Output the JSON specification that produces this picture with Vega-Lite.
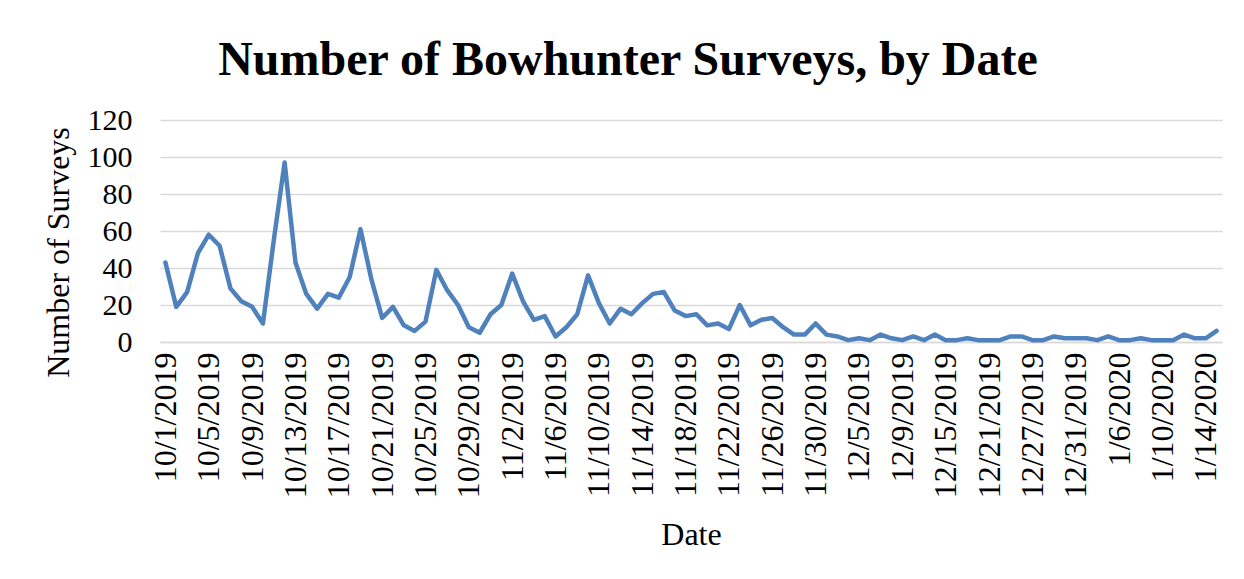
{
  "$schema": "https://vega.github.io/schema/vega-lite/v6.json",
  "autosize": {"type": "none"},
  "padding": {"left": 160, "top": 120, "right": 22, "bottom": 237},
  "width": 1062,
  "height": 222,
  "background": "white",
  "title": {
    "text": "Number of Bowhunter Surveys, by Date",
    "font": "Liberation Serif",
    "fontSize": 48,
    "fontWeight": "bold",
    "color": "black",
    "frame": "group",
    "anchor": "middle",
    "baseline": "alphabetic",
    "offset": -18,
    "dx": -63
  },
  "config": {"view": {"stroke": null}},
  "data": {
    "values": [
      {"date": "10/1/2019", "surveys": 43},
      {"date": "10/2/2019", "surveys": 19},
      {"date": "10/3/2019", "surveys": 27},
      {"date": "10/4/2019", "surveys": 48},
      {"date": "10/5/2019", "surveys": 58},
      {"date": "10/6/2019", "surveys": 52},
      {"date": "10/7/2019", "surveys": 29},
      {"date": "10/8/2019", "surveys": 22},
      {"date": "10/9/2019", "surveys": 19},
      {"date": "10/10/2019", "surveys": 10},
      {"date": "10/11/2019", "surveys": 55},
      {"date": "10/12/2019", "surveys": 97},
      {"date": "10/13/2019", "surveys": 43},
      {"date": "10/14/2019", "surveys": 26},
      {"date": "10/15/2019", "surveys": 18},
      {"date": "10/16/2019", "surveys": 26},
      {"date": "10/17/2019", "surveys": 24},
      {"date": "10/18/2019", "surveys": 35},
      {"date": "10/19/2019", "surveys": 61},
      {"date": "10/20/2019", "surveys": 34},
      {"date": "10/21/2019", "surveys": 13},
      {"date": "10/22/2019", "surveys": 19},
      {"date": "10/23/2019", "surveys": 9},
      {"date": "10/24/2019", "surveys": 6},
      {"date": "10/25/2019", "surveys": 11},
      {"date": "10/26/2019", "surveys": 39},
      {"date": "10/27/2019", "surveys": 28},
      {"date": "10/28/2019", "surveys": 20},
      {"date": "10/29/2019", "surveys": 8},
      {"date": "10/30/2019", "surveys": 5},
      {"date": "10/31/2019", "surveys": 15},
      {"date": "11/1/2019", "surveys": 20},
      {"date": "11/2/2019", "surveys": 37},
      {"date": "11/3/2019", "surveys": 22},
      {"date": "11/4/2019", "surveys": 12},
      {"date": "11/5/2019", "surveys": 14},
      {"date": "11/6/2019", "surveys": 3},
      {"date": "11/7/2019", "surveys": 8},
      {"date": "11/8/2019", "surveys": 15},
      {"date": "11/9/2019", "surveys": 36},
      {"date": "11/10/2019", "surveys": 21},
      {"date": "11/11/2019", "surveys": 10},
      {"date": "11/12/2019", "surveys": 18},
      {"date": "11/13/2019", "surveys": 15},
      {"date": "11/14/2019", "surveys": 21},
      {"date": "11/15/2019", "surveys": 26},
      {"date": "11/16/2019", "surveys": 27},
      {"date": "11/17/2019", "surveys": 17},
      {"date": "11/18/2019", "surveys": 14},
      {"date": "11/19/2019", "surveys": 15},
      {"date": "11/20/2019", "surveys": 9},
      {"date": "11/21/2019", "surveys": 10},
      {"date": "11/22/2019", "surveys": 7},
      {"date": "11/23/2019", "surveys": 20},
      {"date": "11/24/2019", "surveys": 9},
      {"date": "11/25/2019", "surveys": 12},
      {"date": "11/26/2019", "surveys": 13},
      {"date": "11/27/2019", "surveys": 8},
      {"date": "11/28/2019", "surveys": 4},
      {"date": "11/29/2019", "surveys": 4},
      {"date": "11/30/2019", "surveys": 10},
      {"date": "12/1/2019", "surveys": 4},
      {"date": "12/2/2019", "surveys": 3},
      {"date": "12/3/2019", "surveys": 1},
      {"date": "12/5/2019", "surveys": 2},
      {"date": "12/6/2019", "surveys": 1},
      {"date": "12/7/2019", "surveys": 4},
      {"date": "12/8/2019", "surveys": 2},
      {"date": "12/9/2019", "surveys": 1},
      {"date": "12/10/2019", "surveys": 3},
      {"date": "12/12/2019", "surveys": 1},
      {"date": "12/13/2019", "surveys": 4},
      {"date": "12/15/2019", "surveys": 1},
      {"date": "12/16/2019", "surveys": 1},
      {"date": "12/18/2019", "surveys": 2},
      {"date": "12/19/2019", "surveys": 1},
      {"date": "12/21/2019", "surveys": 1},
      {"date": "12/22/2019", "surveys": 1},
      {"date": "12/23/2019", "surveys": 3},
      {"date": "12/26/2019", "surveys": 3},
      {"date": "12/27/2019", "surveys": 1},
      {"date": "12/28/2019", "surveys": 1},
      {"date": "12/29/2019", "surveys": 3},
      {"date": "12/30/2019", "surveys": 2},
      {"date": "12/31/2019", "surveys": 2},
      {"date": "1/2/2020", "surveys": 2},
      {"date": "1/3/2020", "surveys": 1},
      {"date": "1/4/2020", "surveys": 3},
      {"date": "1/6/2020", "surveys": 1},
      {"date": "1/7/2020", "surveys": 1},
      {"date": "1/8/2020", "surveys": 2},
      {"date": "1/9/2020", "surveys": 1},
      {"date": "1/10/2020", "surveys": 1},
      {"date": "1/11/2020", "surveys": 1},
      {"date": "1/12/2020", "surveys": 4},
      {"date": "1/13/2020", "surveys": 2},
      {"date": "1/14/2020", "surveys": 2},
      {"date": "1/15/2020", "surveys": 6}
    ]
  },
  "mark": {"type": "line", "color": "#4f81bd", "strokeWidth": 4.5, "strokeCap": "round", "strokeJoin": "round"},
  "encoding": {
    "x": {
      "field": "date",
      "type": "ordinal",
      "sort": null,
      "scale": {"type": "point", "padding": 0.5},
      "axis": {
        "title": "Date",
        "values": ["10/1/2019", "10/5/2019", "10/9/2019", "10/13/2019", "10/17/2019", "10/21/2019", "10/25/2019", "10/29/2019", "11/2/2019", "11/6/2019", "11/10/2019", "11/14/2019", "11/18/2019", "11/22/2019", "11/26/2019", "11/30/2019", "12/5/2019", "12/9/2019", "12/15/2019", "12/21/2019", "12/27/2019", "12/31/2019", "1/6/2020", "1/10/2020", "1/14/2020"],
        "labelAngle": 270,
        "labelAlign": "right",
        "labelBaseline": "middle",
        "labelFont": "Liberation Serif",
        "labelFontSize": 32,
        "labelColor": "black",
        "labelPadding": 10,
        "labelOverlap": false,
        "labelFlush": false,
        "ticks": false,
        "domainColor": "#d9d9d9",
        "domainWidth": 1.3,
        "titleFont": "Liberation Serif",
        "titleFontSize": 32,
        "titleFontWeight": "normal",
        "titleColor": "black",
        "titlePadding": 22
      }
    },
    "y": {
      "field": "surveys",
      "type": "quantitative",
      "scale": {"domain": [0, 120]},
      "axis": {
        "title": "Number of Surveys",
        "values": [0, 20, 40, 60, 80, 100, 120],
        "labelFont": "Liberation Serif",
        "labelFontSize": 30,
        "labelColor": "black",
        "labelPadding": 28,
        "ticks": false,
        "domain": false,
        "gridColor": "#d9d9d9",
        "gridWidth": 1.3,
        "titleFont": "Liberation Serif",
        "titleFontSize": 32,
        "titleFontWeight": "normal",
        "titleColor": "black",
        "titlePadding": 12,
        "titleY": 132
      }
    }
  }
}
